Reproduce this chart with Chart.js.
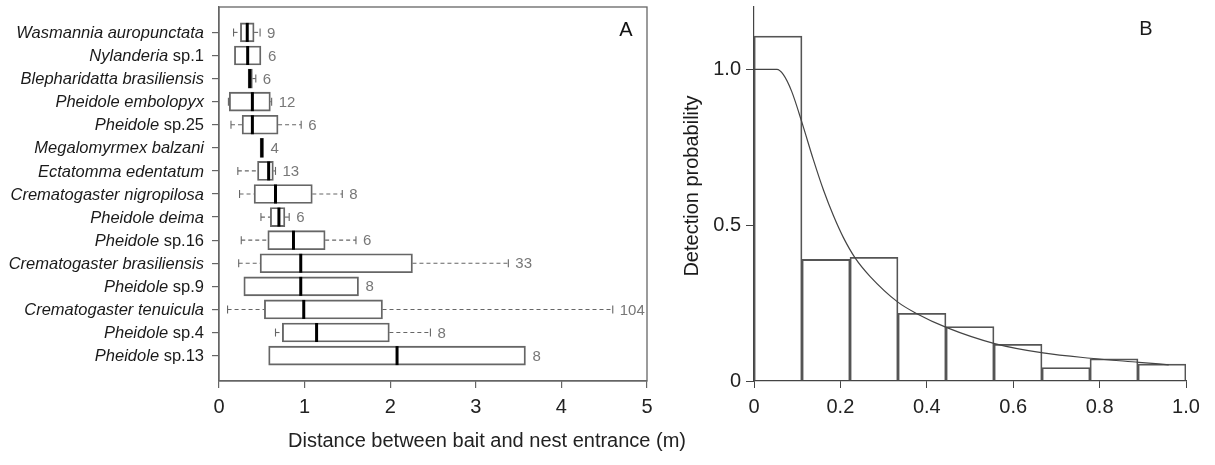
<!DOCTYPE html>
<html><head><meta charset="utf-8">
<script src="https://cdn.jsdelivr.net/npm/chart.js@4.4.1/dist/chart.umd.min.js"></script>
<style>
html,body{margin:0;padding:0;background:#fff;width:1215px;height:465px;overflow:hidden;}
#wrapA{position:absolute;left:0;top:0;width:660px;height:465px;}
#wrapB{position:absolute;left:660px;top:0;width:555px;height:465px;}
#xtitle{position:absolute;left:487px;top:428px;transform:translateX(-50%);font:20px 'Liberation Sans',Arial,sans-serif;color:#222;white-space:nowrap;line-height:24px;}
</style></head>
<body>
<div id="wrapA"><canvas id="cA" width="660" height="465"></canvas></div>
<div id="wrapB"><canvas id="cB" width="555" height="465"></canvas></div>
<div id="xtitle">Distance between bait and nest entrance (m)</div>
<script>
const FONT = "'Liberation Sans', Arial, sans-serif";

// ---------- Panel A data ----------
const species = ["Wasmannia auropunctata","Nylanderia sp.1","Blepharidatta brasiliensis","Pheidole embolopyx","Pheidole sp.25","Megalomyrmex balzani","Ectatomma edentatum","Crematogaster nigropilosa","Pheidole deima","Pheidole sp.16","Crematogaster brasiliensis","Pheidole sp.9","Crematogaster tenuicula","Pheidole sp.4","Pheidole sp.13"];
const whiskerLow  = [0.17, 0.18, 0.34, 0.11, 0.14, 0.48, 0.22, 0.24, 0.49, 0.26, 0.23, 0.29, 0.10, 0.66, 0.58];
const q1          = [0.25, 0.18, 0.34, 0.12, 0.27, 0.48, 0.45, 0.41, 0.60, 0.57, 0.48, 0.29, 0.53, 0.74, 0.58];
const median      = [0.33, 0.335, 0.36, 0.39, 0.39, 0.50, 0.58, 0.66, 0.70, 0.87, 0.955, 0.955, 0.99, 1.14, 2.08];
const q3          = [0.41, 0.49, 0.39, 0.60, 0.69, 0.52, 0.635, 1.09, 0.77, 1.24, 2.26, 1.63, 1.91, 1.99, 3.58];
const whiskerHigh = [0.48, 0.49, 0.43, 0.615, 0.96, 0.52, 0.66, 1.44, 0.82, 1.60, 3.38, 1.63, 4.60, 2.47, 3.58];
const counts      = [9, 6, 6, 12, 6, 4, 13, 8, 6, 6, 33, 8, 104, 8, 8];
const xTicksA = [0, 1, 2, 3, 4, 5];

// ---------- Panel B data ----------
const binLow    = [0, 0.1111, 0.2222, 0.3333, 0.4444, 0.5556, 0.6667, 0.7778, 0.8889];
const binHigh   = [0.1111, 0.2222, 0.3333, 0.4444, 0.5556, 0.6667, 0.7778, 0.8889, 1.0];
const binHeight = [1.107, 0.39, 0.397, 0.217, 0.175, 0.118, 0.043, 0.071, 0.054];
const curveX = [0, 0.053, 0.068, 0.087, 0.112, 0.137, 0.161, 0.184, 0.207, 0.234, 0.269, 0.333, 0.377, 0.445, 0.557, 0.669, 0.779, 0.891, 0.96];
const curveY = [1.0, 1.0, 0.983, 0.93, 0.825, 0.712, 0.612, 0.53, 0.46, 0.395, 0.335, 0.253, 0.216, 0.172, 0.12, 0.09, 0.073, 0.06, 0.052];
const xTicksB = [0, 0.2, 0.4, 0.6, 0.8, 1.0];
const yTicksB = [0, 0.5, 1.0];

// ---------- Panel A ----------
const boxPlugin = {
  id: 'boxPlugin',
  afterDatasetsDraw(chart) {
    const {ctx, chartArea: ca, scales: {x, y}} = chart;
    ctx.save();
    for (let i = 0; i < species.length; i++) {
      const yc = y.getPixelForValue(i + 1);
      const px = v => x.getPixelForValue(v);
      ctx.strokeStyle = '#666';
      ctx.lineWidth = 1.1;
      if (whiskerLow[i] < q1[i]) {
        ctx.setLineDash([4, 3]);
        ctx.beginPath(); ctx.moveTo(px(whiskerLow[i]), yc); ctx.lineTo(px(q1[i]), yc); ctx.stroke();
        ctx.setLineDash([]);
        ctx.beginPath(); ctx.moveTo(px(whiskerLow[i]), yc - 4); ctx.lineTo(px(whiskerLow[i]), yc + 4); ctx.stroke();
      }
      if (whiskerHigh[i] > q3[i]) {
        ctx.setLineDash([4, 3]);
        ctx.beginPath(); ctx.moveTo(px(q3[i]), yc); ctx.lineTo(px(whiskerHigh[i]), yc); ctx.stroke();
        ctx.setLineDash([]);
        ctx.beginPath(); ctx.moveTo(px(whiskerHigh[i]), yc - 4); ctx.lineTo(px(whiskerHigh[i]), yc + 4); ctx.stroke();
      }
      ctx.strokeStyle = '#000';
      ctx.lineWidth = 3;
      ctx.beginPath(); ctx.moveTo(px(median[i]), yc - 9.5); ctx.lineTo(px(median[i]), yc + 9.5); ctx.stroke();
      ctx.fillStyle = '#777';
      ctx.font = '15px ' + FONT;
      ctx.textAlign = 'left'; ctx.textBaseline = 'middle';
      ctx.fillText(String(counts[i]), px(whiskerHigh[i]) + 7, yc + 1);
      const name = species[i];
      const k = name.indexOf(' sp.');
      const ital = k >= 0 ? name.slice(0, k) : name;
      const norm = k >= 0 ? name.slice(k) : '';
      const xr = ca.left - 15;
      ctx.fillStyle = '#1a1a1a';
      ctx.textAlign = 'right';
      ctx.font = '16.5px ' + FONT;
      const wn = norm ? ctx.measureText(norm).width : 0;
      if (norm) ctx.fillText(norm, xr, yc + 1);
      ctx.font = 'italic 16.5px ' + FONT;
      ctx.fillText(ital, xr - wn, yc + 1);
    }
    ctx.strokeStyle = '#666';
    ctx.lineWidth = 1.3;
    ctx.strokeRect(ca.left, ca.top, ca.right - ca.left, ca.bottom - ca.top);
    ctx.fillStyle = '#111';
    ctx.font = '20px ' + FONT;
    ctx.textAlign = 'center'; ctx.textBaseline = 'middle';
    ctx.fillText('A', 626, 30);
    ctx.restore();
  }
};

new Chart(document.getElementById('cA'), {
  type: 'bar',
  data: {
    datasets: [{
      data: species.map((s, i) => ({x: [q1[i], q3[i]], y: i + 1})),
      backgroundColor: 'rgba(255,255,255,0)',
      borderColor: '#666',
      borderWidth: 1.2,
      borderSkipped: false,
      barThickness: 19
    }]
  },
  options: {
    indexAxis: 'y',
    responsive: false,
    animation: false,
    layout: {padding: {left: 0, right: 13, top: 7, bottom: 40}},
    plugins: {legend: {display: false}, tooltip: {enabled: false}},
    scales: {
      x: {
        type: 'linear', min: 0, max: 5, position: 'bottom', offset: false,
        afterBuildTicks: s => { s.ticks = xTicksA.map(v => ({value: v})); },
        afterFit: s => { s.height = 44; },
        ticks: {font: {size: 20, family: FONT}, color: '#222', padding: 7, maxRotation: 0, callback: v => String(v)},
        grid: {drawOnChartArea: false, tickLength: 7, color: '#666', lineWidth: 1.2, offset: false},
        border: {color: '#666', width: 1.3}
      },
      y: {
        type: 'linear', reverse: true, min: -0.1, max: 16.1, offset: false,
        afterBuildTicks: s => { s.ticks = species.map((_, i) => ({value: i + 1})); },
        afterFit: s => { s.width = 219; s.paddingTop = 0; s.paddingBottom = 0; },
        ticks: {callback: () => '', font: {size: 10}},
        grid: {drawOnChartArea: false, tickLength: 7, color: '#666', lineWidth: 1.2, offset: false},
        border: {color: '#666', width: 1.3}
      }
    }
  },
  plugins: [boxPlugin]
});

// ---------- Panel B ----------
const decoB = {
  id: 'decoB',
  afterDraw(chart) {
    const {ctx} = chart;
    ctx.save();
    ctx.fillStyle = '#1a1a1a';
    ctx.font = '20px ' + FONT;
    ctx.textAlign = 'center'; ctx.textBaseline = 'middle';
    ctx.fillText('B', 486, 29);
    ctx.translate(32, 186);
    ctx.rotate(-Math.PI / 2);
    ctx.fillText('Detection probability', 0, 0);
    ctx.restore();
  }
};

new Chart(document.getElementById('cB'), {
  type: 'bar',
  data: {
    datasets: [
      {
        type: 'line',
        data: curveX.map((v, i) => ({x: v, y: curveY[i]})),
        borderColor: '#444', borderWidth: 1.2, pointRadius: 0,
        cubicInterpolationMode: 'monotone', fill: false, order: 0
      },
      {
        type: 'bar',
        data: binLow.map((v, i) => ({x: (v + binHigh[i]) / 2, y: binHeight[i]})),
        backgroundColor: 'rgba(255,255,255,0)',
        borderColor: '#555', borderWidth: 1.1,
        barPercentage: 1, categoryPercentage: 1, order: 1
      }
    ]
  },
  options: {
    responsive: false,
    animation: false,
    layout: {padding: {left: 0, right: 29, top: 7, bottom: 40}},
    plugins: {legend: {display: false}, tooltip: {enabled: false}},
    scales: {
      x: {
        type: 'linear', min: 0, max: 1, offset: false,
        afterBuildTicks: s => { s.ticks = xTicksB.map(v => ({value: v})); },
        afterFit: s => { s.height = 44; s.paddingLeft = 0; s.paddingRight = 0; },
        ticks: {font: {size: 20, family: FONT}, color: '#222', padding: 7, maxRotation: 0,
                callback: v => v === 0 ? '0' : v.toFixed(1)},
        grid: {drawOnChartArea: false, tickLength: 7, color: '#444', lineWidth: 1, offset: false},
        border: {color: '#444', width: 1.2}
      },
      y: {
        type: 'linear', min: 0, max: 1.2,
        afterBuildTicks: s => { s.ticks = yTicksB.map(v => ({value: v})); },
        afterFit: s => { s.width = 94; s.paddingTop = 0; s.paddingBottom = 0; },
        ticks: {font: {size: 20, family: FONT}, color: '#222', padding: 5,
                callback: v => v === 0 ? '0' : v.toFixed(1)},
        grid: {drawOnChartArea: false, tickLength: 8, color: '#444', lineWidth: 1},
        border: {color: '#444', width: 1.2}
      }
    }
  },
  plugins: [decoB]
});
</script>
</body></html>
